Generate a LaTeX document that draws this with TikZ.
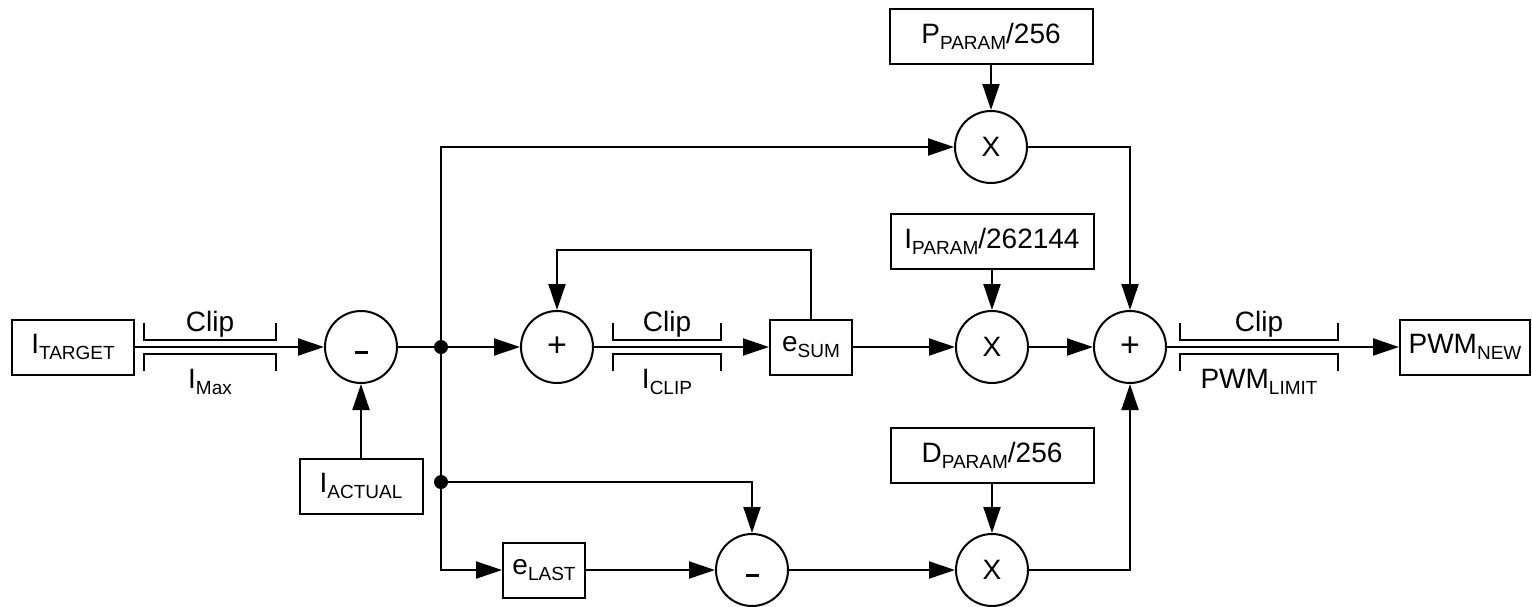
\documentclass[tikz,border=0pt]{standalone}
\usepackage{fontspec}
\setmainfont{Liberation Sans}
\usepackage{tikz}
\usetikzlibrary{arrows.meta, positioning}

\tikzset{
  blk/.style={draw, line width=2pt, minimum height=55pt, inner sep=0pt},
  op/.style={draw, circle, line width=2pt, minimum size=72pt, inner sep=0pt},
  wire/.style={line width=2pt},
  sig/.style={wire, -{Triangle[length=26pt,width=17pt]}},
  dot/.style={circle, fill, inner sep=0pt, minimum size=14pt}
}
\newcommand{\sub}[1]{\raisebox{-6pt}{\fontsize{19}{19}\selectfont #1}}
\newcommand{\plus}{{\fontsize{34}{34}\selectfont +}}
\newcommand{\minus}{\rule{0pt}{10pt}\rule[-4pt]{13pt}{2.8pt}}

\begin{document}
\begin{tikzpicture}[x=1pt, y=-1pt, font=\fontsize{28}{30}\selectfont]
\useasboundingbox (0,0) rectangle (1532,606);

% Blocks
\node[blk, minimum width=122pt] (target) at (73,347) {I\sub{TARGET}};
\node[blk, minimum width=123pt] (act) at (361,486) {I\sub{ACTUAL}};
\node[blk, minimum width=82pt] (esum) at (811,347) {e\sub{SUM}};
\node[blk, minimum width=82pt] (elast) at (544,570) {e\sub{LAST}};
\node[blk, minimum width=203pt] (pbox) at (991,36) {P\sub{PARAM}/256};
\node[blk, minimum width=203pt] (ibox) at (992,241) {I\sub{PARAM}/262144};
\node[blk, minimum width=203pt] (dbox) at (992,455) {D\sub{PARAM}/256};
\node[blk, minimum width=130pt] (pwm) at (1465,347) {PWM\sub{NEW}};

% Operators
\node[op] (sub1) at (361,347) {\minus};
\node[op] (add1) at (557,347) {\plus};
\node[op] (mulp) at (991,147) {X};
\node[op] (muli) at (992,347) {X};
\node[op] (add2) at (1130,347) {\plus};
\node[op] (sub2) at (752,570) {\minus};
\node[op] (muld) at (992,570) {X};

% Branch points
\node[dot] (j1) at (441,347) {};
\node[dot] (j2) at (441,482) {};

% Clip limits
\foreach \xa/\xb/\lab [count=\i] in {144/276/I\sub{Max}, 613/721/I\sub{CLIP}, 1180/1338/PWM\sub{LIMIT}} {
    \draw[wire] (\xa,323) -- (\xa,340) -- (\xb,340) -- (\xb,323);
    \draw[wire] (\xa,371) -- (\xa,354) -- (\xb,354) -- (\xb,371);
    \node[anchor=base] (clip\i) at ({(\xa+\xb)/2},331) {Clip};
    \node[anchor=base] (lim\i) at ({(\xa+\xb)/2},388) {\lab};
}

% Signal paths
\draw[sig] (target) -- (sub1);
\draw[sig] (act) -- (sub1);
\draw[wire] (sub1) -- (j1);
\draw[sig] (j1) -- (add1);
\draw[sig] (j1) |- (mulp);
\draw[wire] (j1) -- (j2);
\draw[sig] (j2) |- (elast);
\draw[sig] (j2) -| (sub2);
\draw[sig] (add1) -- (esum);
\draw[sig] (esum.north) -- ++(0,-69) -| (add1);
\draw[sig] (esum) -- (muli);
\draw[sig] (elast) -- (sub2);
\draw[sig] (sub2) -- (muld);
\draw[sig] (pbox) -- (mulp);
\draw[sig] (ibox) -- (muli);
\draw[sig] (dbox) -- (muld);
\draw[sig] (mulp) -| (add2);
\draw[sig] (muli) -- (add2);
\draw[sig] (muld) -| (add2);
\draw[sig] (add2) -- (pwm);
\end{tikzpicture}
\end{document}
